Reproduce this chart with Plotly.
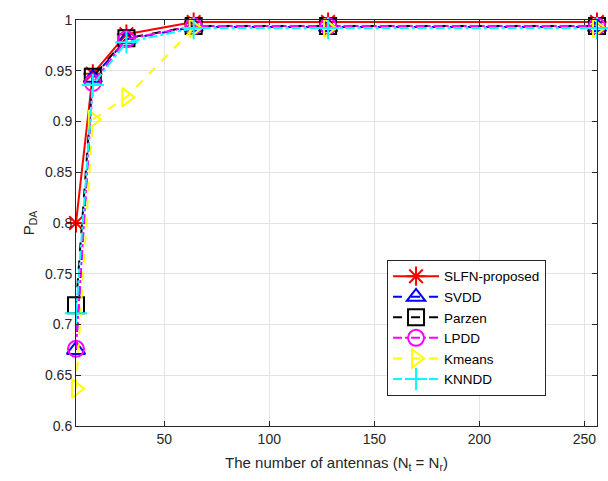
import plotly.graph_objects as go

antennas = [8, 16, 32, 64, 128, 256]
slfn = [0.800, 0.947, 0.986, 0.998, 0.998, 0.998]
svdd = [0.675, 0.943, 0.981, 0.993, 0.993, 0.993]
parzen = [0.719, 0.944, 0.982, 0.994, 0.994, 0.994]
lpdd = [0.676, 0.938, 0.981, 0.994, 0.994, 0.994]
kmeans = [0.637, 0.902, 0.924, 0.992, 0.992, 0.992]
knndd = [0.711, 0.936, 0.978, 0.992, 0.992, 0.992]

series = [
    ("SLFN-proposed", slfn, "#ff0000", "solid", "asterisk-open"),
    ("SVDD", svdd, "#0000ff", "dash", "triangle-up-open"),
    ("Parzen", parzen, "#000000", "dash", "square-open"),
    ("LPDD", lpdd, "#ff00ff", "dashdot", "circle-open"),
    ("Kmeans", kmeans, "#ffff00", "dash", "triangle-right-open"),
    ("KNNDD", knndd, "#00ffff", "dashdot", "cross-thin-open"),
]

fig = go.Figure()
for name, vals, color, dash, sym in series:
    fig.add_trace(go.Scatter(
        x=antennas, y=vals, name=name, mode="lines+markers", cliponaxis=False,
        line=dict(color=color, width=2, dash=dash),
        marker=dict(symbol=sym, size=16, color=color, line=dict(color=color, width=2)),
    ))

axis_common = dict(
    showgrid=True, gridcolor="#e3e3e3", gridwidth=1,
    showline=True, linecolor="#262626", linewidth=1, mirror="ticks",
    ticks="inside", ticklen=5, tickcolor="#262626",
    tickfont=dict(family="Liberation Sans, Arial", size=14, color="#262626"),
    zeroline=False,
)

fig.update_layout(
    width=608, height=481,
    margin=dict(l=76, r=11, t=20, b=55),
    paper_bgcolor="white", plot_bgcolor="white",
    font=dict(family="Liberation Sans, Arial", size=14, color="#262626"),
    xaxis=dict(range=[8, 256], tickvals=[50, 100, 150, 200, 250],
               title=dict(text="The number of antennas (N<sub>t</sub> = N<sub>r</sub>)",
                          font=dict(size=15, color="#262626"), standoff=11),
               **axis_common),
    yaxis=dict(range=[0.6, 1.0], tickvals=[0.6, 0.65, 0.7, 0.75, 0.8, 0.85, 0.9, 0.95, 1.0],
               ticktext=["0.6", "0.65", "0.7", "0.75", "0.8", "0.85", "0.9", "0.95", "1"],
               title=dict(text="P<sub>DA</sub>", font=dict(size=15, color="#262626"), standoff=6),
               **axis_common),
    legend=dict(x=0.597, y=0.409, xanchor="left", yanchor="top",
                bgcolor="white", bordercolor="#262626", borderwidth=1,
                font=dict(family="Liberation Sans, Arial", size=13.5, color="#000000"),
                tracegroupgap=0, itemwidth=46),
    showlegend=True,
)

fig.write_html("out.html", config={"displayModeBar": False},
               post_script="document.body.style.margin='0';document.body.style.overflow='hidden';")
